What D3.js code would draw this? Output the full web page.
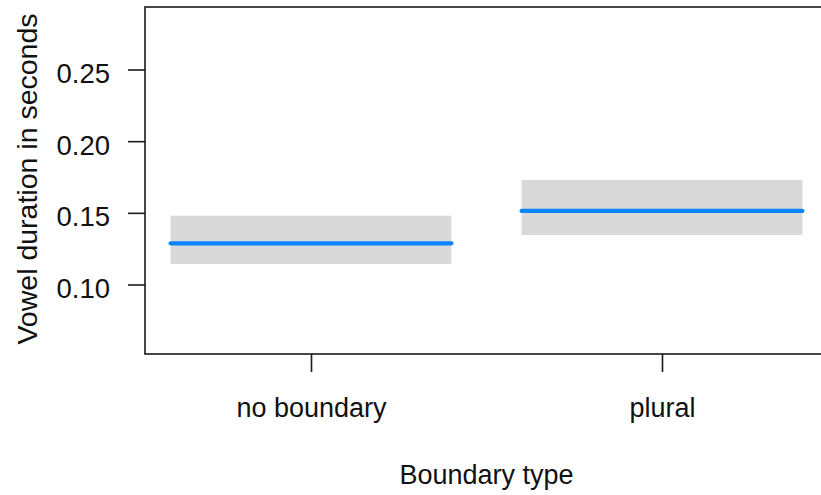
<!DOCTYPE html>
<html>
<head>
<meta charset="utf-8">
<script src="https://cdn.jsdelivr.net/npm/d3@7"></script>
<style>
  html, body { margin: 0; padding: 0; background: #fff; }
  svg text { font-family: "Liberation Sans", Arial, sans-serif; fill: #111; }
</style>
</head>
<body>
<svg id="chart" width="821" height="495"></svg>
<script>
// Effect of boundary type on vowel duration: fitted values with 95% CI bands
const categories = ["no boundary", "plural"];
const fitValues = [0.1287, 0.1513];
const lowerValues = [0.1143, 0.1345];
const upperValues = [0.1480, 0.1729];
const yTicks = [0.10, 0.15, 0.20, 0.25];
const xTitle = "Boundary type";
const yTitle = "Vowel duration in seconds";

const svg = d3.select("#chart");
const plot = { left: 145, right: 826, top: 7, bottom: 354 };

// category index -> horizontal position
const x = d3.scaleLinear().domain([1, 2]).range([311, 662]);
const y = d3.scaleLinear().domain([0.10, 0.25]).range([284.5, 69.5]);
const halfWidth = 0.4;

const rows = categories.map((c, i) => ({
  cat: c, idx: i + 1, fit: fitValues[i], lo: lowerValues[i], hi: upperValues[i]
}));

// confidence bands
svg.append("g").selectAll("rect").data(rows).join("rect")
  .attr("x", d => x(d.idx - halfWidth))
  .attr("width", d => x(d.idx + halfWidth) - x(d.idx - halfWidth))
  .attr("y", d => y(d.hi))
  .attr("height", d => y(d.lo) - y(d.hi))
  .attr("fill", "#d9d9d9");

// fitted lines
svg.append("g").selectAll("line").data(rows).join("line")
  .attr("x1", d => x(d.idx - halfWidth))
  .attr("x2", d => x(d.idx + halfWidth))
  .attr("y1", d => y(d.fit))
  .attr("y2", d => y(d.fit))
  .attr("stroke", "#0a84ff")
  .attr("stroke-width", 4.2)
  .attr("stroke-linecap", "round");

// frame
svg.append("rect")
  .attr("x", plot.left).attr("y", plot.top)
  .attr("width", plot.right - plot.left).attr("height", plot.bottom - plot.top)
  .attr("fill", "none").attr("stroke", "#1a1a1a").attr("stroke-width", 1.6);

// y axis
const yAxis = d3.axisLeft(y).tickValues(yTicks).tickFormat(d3.format(".2f"))
  .tickSize(17).tickPadding(18);
const gy = svg.append("g").attr("transform", `translate(${plot.left},0)`).call(yAxis);
gy.select(".domain").remove();
gy.selectAll(".tick line").attr("stroke", "#1a1a1a").attr("stroke-width", 1.6);
gy.selectAll(".tick text").attr("font-size", 27.5).attr("dy", "0.47em")
  .attr("font-family", "Liberation Sans, Arial, sans-serif").attr("fill", "#111");

// x axis
const xAxis = d3.axisBottom(x).tickValues(rows.map(d => d.idx))
  .tickFormat(i => categories[i - 1]).tickSize(18).tickPadding(0);
const gx = svg.append("g").attr("transform", `translate(0,${plot.bottom})`).call(xAxis);
gx.select(".domain").remove();
gx.selectAll(".tick line").attr("stroke", "#1a1a1a").attr("stroke-width", 1.6);
gx.selectAll(".tick text").attr("font-size", 27).attr("y", 63).attr("dy", 0)
  .attr("font-family", "Liberation Sans, Arial, sans-serif").attr("fill", "#111");

// axis titles
svg.append("text")
  .attr("x", (x(1) + x(2)) / 2).attr("y", 484)
  .attr("text-anchor", "middle").attr("font-size", 27)
  .text(xTitle);

svg.append("text")
  .attr("transform", "translate(37,179) rotate(-90)")
  .attr("text-anchor", "middle").attr("font-size", 28.5)
  .text(yTitle);
</script>
</body>
</html>
